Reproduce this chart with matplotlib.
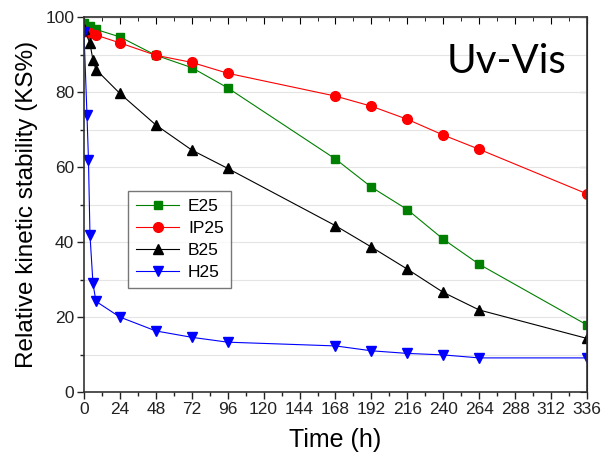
import matplotlib
matplotlib.use('Agg')
import matplotlib.pyplot as plt
from matplotlib.ticker import MultipleLocator

# time points (h) and KS% values per sample
t_e25 = [0, 4, 8, 24, 48, 72, 96, 168, 192, 216, 240, 264, 336]
ks_e25 = [98.5, 97.8, 96.8, 94.8, 89.9, 86.6, 81.2, 62.2, 54.7, 48.7, 40.8, 34.1, 17.9]

t_ip25 = [0, 4, 8, 24, 48, 72, 96, 168, 192, 216, 240, 264, 336]
ks_ip25 = [96.5, 95.8, 95.3, 93.2, 89.9, 88.0, 85.1, 79.0, 76.3, 72.8, 68.6, 64.8, 52.9]

t_b25 = [0, 4, 6, 8, 24, 48, 72, 96, 168, 192, 216, 240, 264, 336]
ks_b25 = [97.0, 93.1, 88.6, 86.1, 79.7, 71.3, 64.6, 59.7, 44.4, 38.7, 32.8, 26.6, 21.9, 14.3]

t_h25 = [0, 2, 3, 4, 6, 8, 24, 48, 72, 96, 168, 192, 216, 240, 264, 336]
ks_h25 = [96.0, 74.0, 62.0, 42.0, 29.0, 24.2, 20.0, 16.3, 14.6, 13.3, 12.3, 11.0, 10.3, 9.9, 9.1, 9.1]

x_ticks = list(range(0, 337, 24))

plt.rcParams['font.family'] = ['Liberation Sans', 'DejaVu Sans']

fig = plt.figure(figsize=(6.02, 4.59), dpi=100)
ax = fig.add_axes([0.1395, 0.146, 0.8355, 0.816])

ax.plot(t_e25, ks_e25, color='#008000', lw=0.8, marker='s', ms=6, label='E25')
ax.plot(t_ip25, ks_ip25, color='#ff0000', lw=0.8, marker='o', ms=7, label='IP25')
ax.plot(t_b25, ks_b25, color='black', lw=0.8, marker='^', ms=7.5, label='B25')
ax.plot(t_h25, ks_h25, color='#0000ff', lw=0.8, marker='v', ms=7.5, label='H25')

ax.set_xlim(0, 336)
ax.set_ylim(0, 100)
ax.set_xticks(x_ticks)
ax.xaxis.set_minor_locator(MultipleLocator(12))
ax.yaxis.set_major_locator(MultipleLocator(20))
ax.yaxis.set_minor_locator(MultipleLocator(10))
ax.grid(axis='y', which='both', color='#e4e4e4', lw=0.8)
ax.set_axisbelow(True)

ax.tick_params(which='both', direction='out', labelsize=12.5, width=1, colors='#222222', pad=2)
ax.tick_params(which='major', length=5)
ax.tick_params(which='minor', length=3)
for s in ax.spines.values():
    s.set_linewidth(1.2)
    s.set_color('#333333')

# inward ticks on top and right
top = ax.secondary_xaxis('top')
top.set_xticks(x_ticks)
top.xaxis.set_minor_locator(MultipleLocator(12))
top.tick_params(which='both', direction='in', labeltop=False)
top.tick_params(which='major', length=5)
top.tick_params(which='minor', length=3)
right = ax.secondary_yaxis('right')
right.yaxis.set_major_locator(MultipleLocator(20))
right.yaxis.set_minor_locator(MultipleLocator(10))
right.tick_params(which='both', direction='in', labelright=False)
right.tick_params(which='major', length=5)
right.tick_params(which='minor', length=3)

ax.set_xlabel('Time (h)', fontsize=18, labelpad=8)
ax.set_ylabel('Relative kinetic stability (KS%)', fontsize=17.5, labelpad=5)

ax.text(0.960, 0.852, 'Uv-Vis', transform=ax.transAxes, ha='right', va='baseline',
        fontsize=29, family=['Lato', 'DejaVu Sans'])

leg = ax.legend(loc='upper left', bbox_to_anchor=(0.0875, 0.537), fontsize=12.5,
                fancybox=False, edgecolor='#555555', handlelength=2.5,
                borderpad=0.45, labelspacing=0.4, handletextpad=0.5,
                borderaxespad=0)
leg.get_frame().set_linewidth(1.0)

fig.savefig('out.png', dpi=100)
